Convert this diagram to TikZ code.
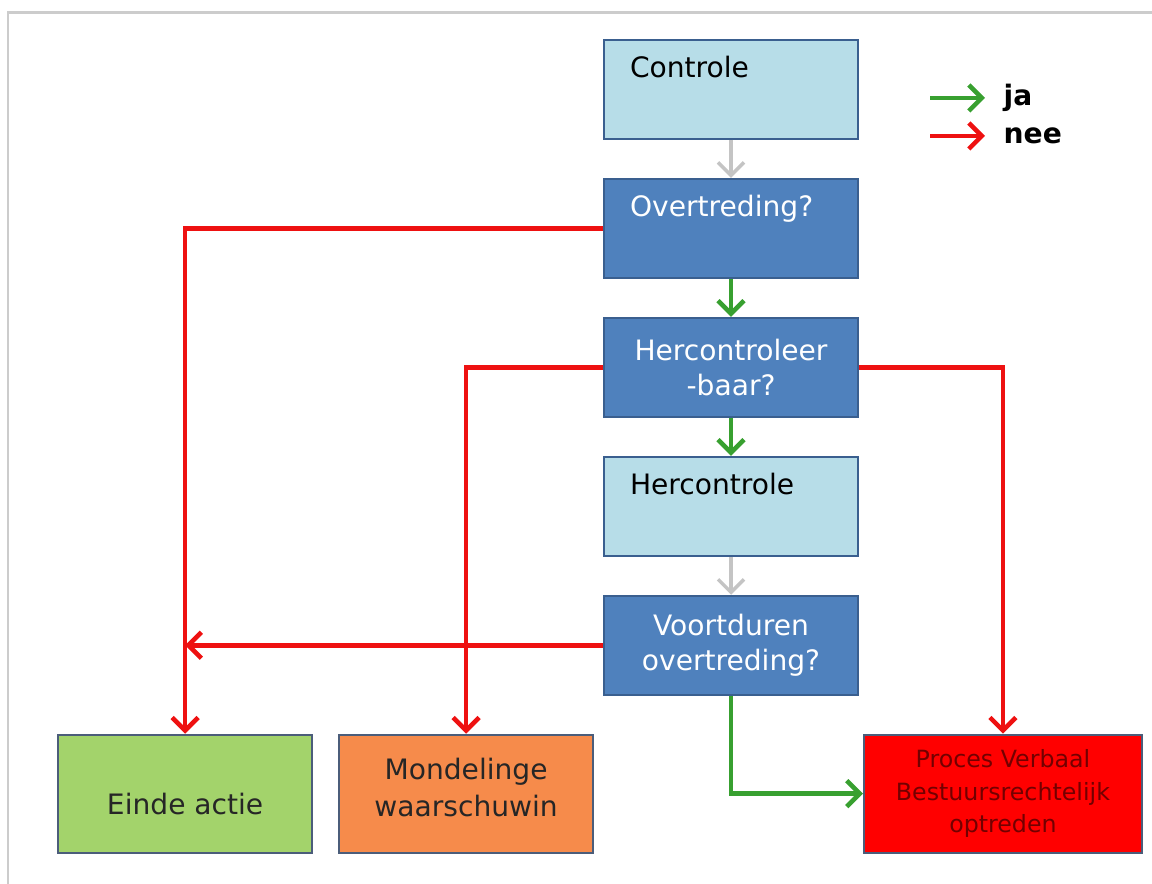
\documentclass[tikz,border=0pt]{standalone}
\usepackage{fontspec}
\setmainfont{DejaVu Sans}
\usetikzlibrary{arrows.meta,positioning}

\definecolor{lichtblauw}{HTML}{B7DDE8}
\definecolor{blauw}{HTML}{4F81BD}
\definecolor{blauwrand}{HTML}{3A5F8F}
\definecolor{grijsrand}{HTML}{4B5D7A}
\definecolor{groenvak}{HTML}{A3D36B}
\definecolor{oranjevak}{HTML}{F68B4B}
\definecolor{jagroen}{HTML}{38A030}
\definecolor{neerood}{HTML}{EE1111}
\definecolor{pijlgrijs}{HTML}{C4C4C4}

\begin{document}
\begin{tikzpicture}[>={Straight Barb[length=2.6mm,width=5.2mm]},node distance=0.76cm,
  every node/.style={font=\fontsize{16}{20}\selectfont},
  vak/.style={rectangle,draw,line width=1.1pt,minimum width=5.08cm,minimum height=1.98cm,inner sep=0pt},
  licht/.style={vak,fill=lichtblauw,draw=blauwrand,text width=4.04cm,align=left},
  vraag/.style={vak,fill=blauw,draw=blauwrand,text=white,align=center},
  eind/.style={vak,draw=grijsrand,minimum height=2.36cm,align=center},
  ja/.style={->,draw=jagroen,line width=2.6pt},
  nee/.style={->,draw=neerood,line width=2.6pt},
  door/.style={->,draw=pijlgrijs,line width=2pt}]
  \useasboundingbox (0,0) rectangle (23.04,17.68);
  % kader
  \draw[draw=black!20,line width=1.2pt] (0.16,0) -- (0.16,17.43) -- (23.04,17.43);

  % middelste kolom
  \node[licht] (controle) at (14.62,15.89) {Controle\\\strut};
  \node[vraag,align=left,text width=4.04cm] (overtreding) [below=of controle] {Overtreding?\\\strut};
  \node[vraag] (hercontroleerbaar) [below=of overtreding] {Hercontroleer\\-baar?};
  \node[licht] (hercontrole) [below=of hercontroleerbaar] {Hercontrole\\\strut};
  \node[vraag] (voortduren) [below=of hercontrole] {Voortduren\\overtreding?};

  % uitkomsten
  \node[eind,fill=oranjevak,text=black!85,font=\fontsize{16}{21.5}\selectfont] (mondeling) [below left=0.76cm and 0.18cm of voortduren] {Mondelinge\\waarschuwin\\[-0.5cm]\mbox{}};
  \node[eind,fill=groenvak,text=black!85,text height=0.9cm,text depth=0.06cm] (einde) [left=0.5cm of mondeling] {Einde actie};
  \node[eind,fill=red,minimum width=5.56cm,text=red!45!black,font=\fontsize{13.5}{18.5}\selectfont] (pv) [below right=0.76cm and 0.08cm of voortduren] {Proces Verbaal\\Bestuursrechtelijk\\optreden};

  % legenda
  \node[anchor=west] (legja) at (19.95,15.72) {\bfseries ja};
  \node[anchor=west] (legnee) at (19.95,14.96) {\bfseries nee};
  \coordinate (jabegin) at (18.6,15.72);
  \coordinate (neebegin) at (18.6,14.96);
  \draw[ja,shorten >=0.25cm] (jabegin) -- (legja.west);
  \draw[nee,shorten >=0.25cm] (neebegin) -- (legnee.west);

  % verbindingen
  \draw[door] (controle) -- (overtreding);
  \draw[ja] (overtreding) -- (hercontroleerbaar);
  \draw[ja] (hercontroleerbaar) -- (hercontrole);
  \draw[door] (hercontrole) -- (voortduren);
  \draw[nee] (overtreding.west) -| (einde.north);
  \draw[nee] (hercontroleerbaar.west) -| (mondeling.north);
  \draw[nee] (hercontroleerbaar.east) -| (pv.north);
  \draw[nee] (voortduren.west) -- (voortduren.west -| einde.north);
  \draw[ja] (voortduren.south) |- (pv.west);
\end{tikzpicture}
\end{document}
